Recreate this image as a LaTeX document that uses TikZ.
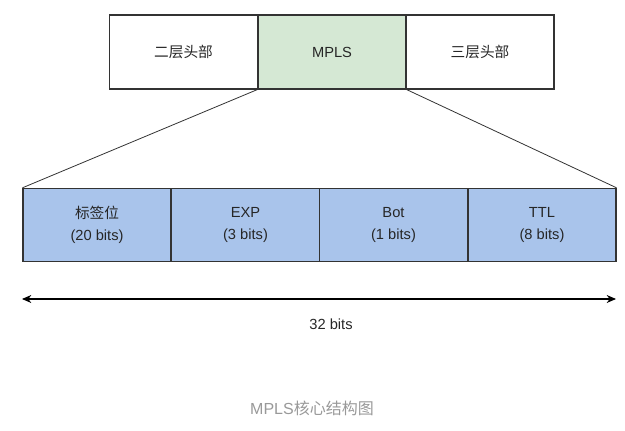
\documentclass[tikz,border=0pt]{standalone}
\usepackage{fontspec}
\setmainfont{Liberation Sans}
\newfontfamily\cjk{Noto Sans CJK SC}
\usetikzlibrary{arrows.meta}
\definecolor{hdrgreen}{HTML}{D5E8D4}
\definecolor{fldblue}{HTML}{A9C4EB}
\definecolor{edge}{HTML}{333333}
\definecolor{capgray}{HTML}{999999}
\tikzset{
  hdr/.style={draw=edge, line width=0.8pt, minimum width=111pt, minimum height=55.5pt, inner sep=0pt, font=\fontsize{11pt}{12pt}\selectfont, text=black!85},
  fld/.style={draw=edge, line width=0.8pt, fill=fldblue, minimum width=111pt, minimum height=55pt, inner sep=0pt, align=center, font=\fontsize{11pt}{16.5pt}\selectfont, text=black!85},
  zoomline/.style={draw=edge, line width=0.6pt},
  span/.style={draw=black, line width=0.8pt, {Stealth[length=7pt,width=6pt]}-{Stealth[length=7pt,width=6pt]}}
}
\begin{document}
\begin{tikzpicture}[x=0.75pt,y=-0.75pt]
\useasboundingbox (0,0) rectangle (625,431);
% header boxes
\node[hdr] (l2) at (183.5,52) {\cjk 二层头部};
\node[hdr, fill=hdrgreen] (mpls) at (332,52) {MPLS};
\node[hdr] (l3) at (480,52) {\cjk 三层头部};
% fields
\node[fld] (lab) at (97,225) {{\cjk 标签位}\\(20 bits)};
\node[fld] (exp) at (245.5,225) {EXP\\(3 bits)};
\node[fld] (bot) at (393.5,225) {Bot\\(1 bits)};
\node[fld] (ttl) at (542,225) {TTL\\(8 bits)};
% zoom lines
\draw[zoomline] (mpls.south west) -- (lab.north west);
\draw[zoomline] (mpls.south east) -- (ttl.north east);
% span arrow
\coordinate (aL) at (22,299);
\coordinate (aR) at (616,299);
\draw[span] (aL) -- (aR);
\node[font=\fontsize{11pt}{12pt}\selectfont, text=black!85] (bits) at (331,324) {32 bits};
% caption
\node[font=\fontsize{12pt}{14pt}\selectfont, text=capgray] (cap) at (312,408) {MPLS{\cjk 核心结构图}};
\end{tikzpicture}
\end{document}
